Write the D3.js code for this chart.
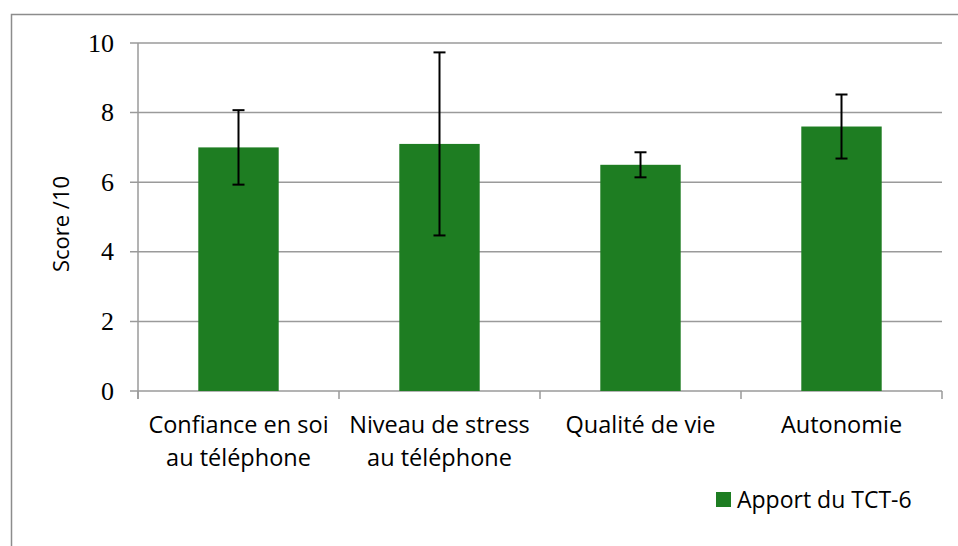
<!DOCTYPE html>
<html>
<head>
<meta charset="utf-8">
<script src="https://cdn.jsdelivr.net/npm/d3@7"></script>
<style>
  body { margin: 0; background: #fff; }
  svg { display: block; }
</style>
</head>
<body>
<div class="container"></div>
<script>
// data
const categories = [["Confiance en soi", "au téléphone"], ["Niveau de stress", "au téléphone"], ["Qualité de vie"], ["Autonomie"]];
const scores = [7.0, 7.1, 6.5, 7.6];
const errors = [1.07, 2.63, 0.36, 0.92];
const yTicks = [0, 2, 4, 6, 8, 10];
const seriesName = "Apport du TCT-6";

const W = 958, H = 546;
const margin = { top: 43, right: 16, bottom: 155, left: 138 };
let w = W - margin.left - margin.right,
    h = H - margin.top - margin.bottom;
const green = "#1e7d22";
const grid = "#9a9a9a";
const sans = "'Open Sans', sans-serif";

let svg = d3.select(".container").append("svg").attr("width", W).attr("height", H);

// outer frame
svg.append("rect").attr("x", 11.5).attr("y", 14.5).attr("width", 980).attr("height", 600)
  .attr("fill", "none").attr("stroke", "#8c8c8c").attr("stroke-width", 1.5);

let g = svg.append("g").attr("transform", "translate(" + margin.left + "," + margin.top + ")");

let xScale = d3.scaleBand().domain(d3.range(categories.length)).range([0, w]).paddingInner(0.6).paddingOuter(0.3);
let xBand = d3.scaleBand().domain(d3.range(categories.length)).range([0, w]);
let yScale = d3.scaleLinear().domain([0, 10]).range([h, 0]);

// gridlines
g.selectAll(".grid").data(yTicks).enter().append("line")
  .attr("x1", -8).attr("x2", w)
  .attr("y1", d => yScale(d)).attr("y2", d => yScale(d))
  .attr("stroke", grid).attr("stroke-width", 1.5);

// y axis labels
g.selectAll(".ylab").data(yTicks).enter().append("text")
  .attr("x", -24).attr("y", d => yScale(d)).attr("dy", "0.33em")
  .attr("text-anchor", "end").style("font-family", "'Liberation Serif', serif").style("font-size", "26px")
  .text(d => d);

// axis line + x ticks
g.append("line").attr("x1", 0).attr("x2", 0).attr("y1", 0).attr("y2", h + 8).attr("stroke", grid).attr("stroke-width", 1.5);
g.selectAll(".xtick").data(d3.range(categories.length + 1)).enter().append("line")
  .attr("x1", d => d * xBand.bandwidth()).attr("x2", d => d * xBand.bandwidth())
  .attr("y1", h).attr("y2", h + 8).attr("stroke", grid).attr("stroke-width", 1.5);

// bars
g.selectAll(".bar").data(scores).enter().append("rect")
  .attr("x", (d, i) => xScale(i)).attr("width", xScale.bandwidth())
  .attr("y", d => yScale(d)).attr("height", d => h - yScale(d))
  .attr("fill", green);

// error bars
let eb = g.selectAll(".err").data(scores).enter().append("g")
  .attr("transform", (d, i) => "translate(" + (xScale(i) + xScale.bandwidth() / 2) + ",0)");
eb.append("line").attr("y1", (d, i) => yScale(d + errors[i])).attr("y2", (d, i) => yScale(d - errors[i]))
  .attr("stroke", "#000").attr("stroke-width", 2);
eb.append("line").attr("x1", -6).attr("x2", 6).attr("y1", (d, i) => yScale(d + errors[i])).attr("y2", (d, i) => yScale(d + errors[i]))
  .attr("stroke", "#000").attr("stroke-width", 2);
eb.append("line").attr("x1", -6).attr("x2", 6).attr("y1", (d, i) => yScale(d - errors[i])).attr("y2", (d, i) => yScale(d - errors[i]))
  .attr("stroke", "#000").attr("stroke-width", 2);

// category labels
let cl = g.selectAll(".clab").data(categories).enter().append("text")
  .attr("text-anchor", "middle").style("font-family", sans).style("font-size", "23.5px")
  .attr("transform", (d, i) => "translate(" + (xBand(i) + xBand.bandwidth() / 2) + "," + (h + 42) + ")");
cl.selectAll("tspan").data(d => d).enter().append("tspan")
  .attr("x", 0).attr("dy", (d, i) => i ? 33 : 0).text(d => d);

// y title
svg.append("text").attr("transform", "translate(69,224) rotate(-90)").attr("text-anchor", "middle")
  .style("font-family", sans).style("font-size", "22px").text("Score /10");

// legend
svg.append("rect").attr("x", 716).attr("y", 492).attr("width", 15).attr("height", 15).attr("fill", green);
svg.append("text").attr("x", 737).attr("y", 508).style("font-family", sans).style("font-size", "23px").text(seriesName);
</script>
</body>
</html>
